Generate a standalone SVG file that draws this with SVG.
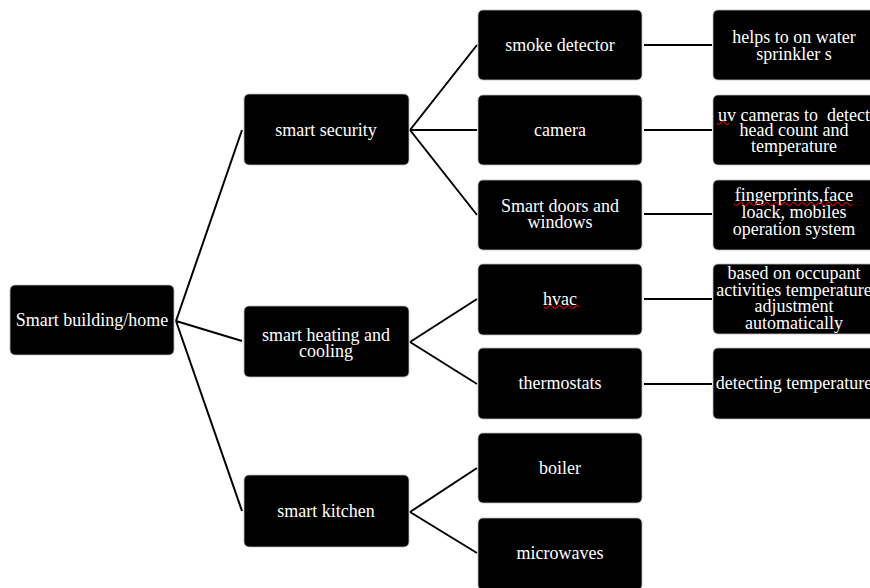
<svg xmlns="http://www.w3.org/2000/svg" width="870" height="588" viewBox="0 0 870 588">
<style>
.box{fill:#000;stroke:#bbb;stroke-width:0.8}
.t{font-family:"Liberation Serif","Times New Roman",serif;font-size:18px;fill:#fff;text-anchor:middle}
.c{stroke:#000;stroke-width:2;fill:none}
.sq{stroke:#e00;stroke-width:1.2;fill:none}
</style>
<rect width="870" height="588" fill="#fff"/>
<g id="connectors">
<path class="c" d="M176 321L242 130M176 321L242 341M176 321L242 511"/>
<path class="c" d="M410 130L477 45M410 130L477 130M410 130L477 215"/>
<path class="c" d="M410 342L477 299M410 342L477 384"/>
<path class="c" d="M410 512L477 468M410 512L477 553"/>
<path class="c" d="M644 45H712M644 130H712M644 214H712M644 299H712M644 384H712"/>
</g>
<g id="n-root"><rect class="box" x="10" y="285" width="164" height="70" rx="5"/><text class="t" x="92" y="326">Smart building/home</text></g>
<g id="n-security"><rect class="box" x="244" y="94" width="165" height="71" rx="5"/><text class="t" x="326" y="136">smart security</text></g>
<g id="n-heating"><rect class="box" x="244" y="306" width="165" height="71" rx="5"/><text class="t" x="326" y="341">smart heating and</text><text class="t" x="326" y="357">cooling</text></g>
<g id="n-kitchen"><rect class="box" x="244" y="475" width="165" height="72" rx="5"/><text class="t" x="326" y="517">smart kitchen</text></g>
<g id="n-smoke"><rect class="box" x="478" y="10" width="164" height="70" rx="5"/><text class="t" x="560" y="51">smoke detector</text></g>
<g id="n-camera"><rect class="box" x="478" y="95" width="164" height="70" rx="5"/><text class="t" x="560" y="136">camera</text></g>
<g id="n-doors"><rect class="box" x="478" y="180" width="164" height="70" rx="5"/><text class="t" x="560" y="212">Smart doors and</text><text class="t" x="560" y="228">windows</text></g>
<g id="n-hvac"><rect class="box" x="478" y="264" width="164" height="71" rx="5"/><text class="t" x="560" y="305">hvac</text><path class="sq" d="M544 307q2.2 3 4.4 0t4.4 0t4.4 0t4.4 0t4.4 0t4.4 0t4.4 0t4.4 0"/></g>
<g id="n-thermo"><rect class="box" x="478" y="348" width="164" height="71" rx="5"/><text class="t" x="560" y="389">thermostats</text></g>
<g id="n-boiler"><rect class="box" x="478" y="433" width="164" height="70" rx="5"/><text class="t" x="560" y="474">boiler</text></g>
<g id="n-micro"><rect class="box" x="478" y="518" width="164" height="72" rx="5"/><text class="t" x="560" y="559">microwaves</text></g>
<g id="n-helps"><rect class="box" x="713" y="10" width="163" height="70" rx="5"/><text class="t" x="794" y="43">helps to on water</text><text class="t" x="794" y="60">sprinkler s</text></g>
<g id="n-uv"><rect class="box" x="713" y="95" width="163" height="70" rx="5"/><text class="t" x="794" y="121" xml:space="preserve">uv cameras to  detect</text><text class="t" x="794" y="136">head count and</text><text class="t" x="794" y="152">temperature</text><path class="sq" d="M717 123q2 3 4 0t4 0t4 0"/></g>
<g id="n-finger"><rect class="box" x="713" y="180" width="163" height="70" rx="5"/><text class="t" x="794" y="201">fingerprints,face</text><text class="t" x="794" y="218">loack, mobiles</text><text class="t" x="794" y="235">operation system</text><path class="sq" d="M734 204q2.2 3 4.4 0t4.4 0t4.4 0t4.4 0t4.4 0t4.4 0t4.4 0t4.4 0t4.4 0t4.4 0t4.4 0t4.4 0t4.4 0t4.4 0t4.4 0t4.4 0t4.4 0t4.4 0t4.4 0t4.4 0t4.4 0t4.4 0t4.4 0t4.4 0t4.4 0t4.4 0t4.4 0"/></g>
<g id="n-based"><rect class="box" x="713" y="264" width="163" height="70" rx="5"/><text class="t" x="794" y="279">based on occupant</text><text class="t" x="794" y="296">activities temperature</text><text class="t" x="794" y="312">adjustment</text><text class="t" x="794" y="329">automatically</text></g>
<g id="n-detect"><rect class="box" x="713" y="348" width="163" height="71" rx="5"/><text class="t" x="794" y="389">detecting temperature</text></g>
</svg>
